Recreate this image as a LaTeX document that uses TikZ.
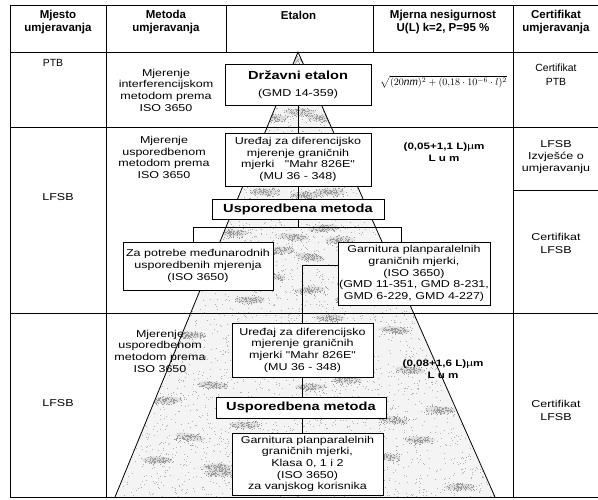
\documentclass[tikz,border=0pt]{standalone}
\usepackage{fontspec}
\setmainfont{Liberation Sans}
\newfontfamily\bodyfont{Liberation Sans}[FakeStretch=1.25]

\tikzset{
  rule/.style={line width=0.9pt},
  link/.style={line width=0.8pt},
  head/.style={font=\bfseries\fontsize{11.5}{13.5}\selectfont, align=center, inner sep=0pt},
  txt/.style={font=\bodyfont\fontsize{10}{11.7}\selectfont, align=center, inner sep=0pt},
  small/.style={font=\fontsize{10.4}{14}\selectfont, align=center, inner sep=0pt},
  val/.style={font=\bodyfont\bfseries\fontsize{9.3}{12}\selectfont, align=center, inner sep=0pt},
  box/.style={draw, fill=white, line width=0.8pt, txt, inner sep=0pt},
  keybox/.style={box, font=\bodyfont\bfseries\fontsize{11.7}{14}\selectfont},
}

\begin{document}
\begin{tikzpicture}[x=1pt,y=-1pt]
\useasboundingbox (0,0) rectangle (598,500);
\clip (0,0) rectangle (598,500);

% calibration pyramid: corners
\coordinate (apex) at (298,52);
\coordinate (baseL) at (115,497);
\coordinate (baseR) at (495,497);

% grainy shading of the pyramid
\begin{scope}
  \clip (apex) -- (baseL) -- (baseR) -- cycle;
  \fill[gray!9] (apex) -- (baseL) -- (baseR) -- cycle;
  \pgfmathsetseed{4242}
  \foreach \i in {1,...,5200}{
    \pgfmathsetmacro{\px}{115+380*rnd}
    \pgfmathsetmacro{\py}{52+445*rnd}
    \fill[gray!60] (\px,\py) rectangle ++(1,1);
  }
  \foreach \sx/\sy/\sa in {233/233/0, 293/237/-5, 323/228/5, 310/257/-10,
      270/277/0, 310/290/5, 250/300/0, 350/300/-5, 190/335/0, 330/318/0,
      213/385/-5, 167/400/0, 190/437/-10, 157/460/0, 217/467/0, 410/370/-5,
      440/410/0, 393/420/-8, 385/457/0, 460/487/0, 310/387/0, 347/380/0,
      220/473/0, 280/250/0, 272/118/0, 322/118/0, 300/112/0, 340/240/0,
      395/330/-5, 420/440/0, 262/340/0, 245/425/0, 288/60/0, 305/195/0,
      265/192/0, 330/192/0}{
    \fill[gray!35, opacity=0.6] (\sx,\sy) ellipse [x radius=15pt, y radius=3.5pt, rotate=\sa];
    \foreach \j in {1,...,90}{
      \pgfmathsetmacro{\dx}{17*(rnd+rnd-1)}
      \pgfmathsetmacro{\dy}{5*(rnd+rnd-1)}
      \fill[gray!80] (\sx+\dx,\sy+\dy) rectangle ++(1,1);
    }
  }
\end{scope}

% table rules
\draw[rule] (10,5) rectangle (605,497);
\draw[rule] (10,52) -- (605,52);
\draw[rule] (10,127) -- (605,127);
\draw[rule] (10,313) -- (605,313);
\draw[rule] (513,190) -- (605,190);
\draw[rule] (106,5) -- (106,497);
\draw[rule] (513,5) -- (513,497);
\draw[rule] (226,5) -- (226,52);
\draw[rule] (373,5) -- (373,52);

% pyramid outline
\draw[link] (baseL) -- (apex) -- (baseR);

% column headings
\node[head] (hPlace) at (58,22) {Mjesto\\umjeravanja};
\node[head] (hMethod) at (166,22) {Metoda\\umjeravanja};
\node[head] (hStd) at (298.5,15) {Etalon};
\node[head] (hUnc) at (443,22) {Mjerna nesigurnost\\U(L) k=2, P=95 \%};
\node[head] (hCert) at (556,22) {Certifikat\\umjeravanja};

% row PTB
\node[small] (ptb) at (53,63) {PTB};
\node[txt] (mInt) at (166,90) {Mjerenje\\interferencijskom\\metodom prema\\ISO 3650};
\node[box, minimum width=146pt, minimum height=41pt] (nat) at (298,84.5) {};
\node[font=\bodyfont\bfseries\fontsize{11.7}{14}\selectfont, inner sep=0pt] (natT) at (298,75.5) {Državni etalon};
\node[txt, inner sep=0pt] (natG) at (298,93.5) {(GMD 14-359)};
\node[inner sep=0pt, font=\fontsize{10.1}{12}\selectfont] (uPTB) at (443.5,82)
  {$\sqrt{(20\mathit{nm})^2+(0{,}18\cdot10^{-6}\cdot l)^2}$};
\node[small] (cPTB) at (556,75) {Certifikat\\PTB};

% row LFSB, national level
\node[txt] (lfsbA) at (58,197) {LFSB};
\node[txt] (mCmpA) at (164,157.5) {Mjerenje\\usporedbenom\\metodom prema\\ISO 3650};
\node[box, minimum width=146pt, minimum height=53pt] (devA) at (298,159.5)
  {Uređaj za diferencijsko\\mjerenje graničnih\\mjerki \ \ "Mahr 826E"\\(MU 36 - 348)};
\node[keybox, minimum width=172pt, minimum height=20pt] (cmpA) at (298,209) {Usporedbena metoda};
\node[box, minimum width=150pt, minimum height=48pt] (intl) at (198,266)
  {Za potrebe međunarodnih\\usporedbenih mjerenja\\(ISO 3650)};
\node[box, minimum width=152pt, minimum height=63pt] (setA) at (414,273.5)
  {Garnitura planparalelnih\\graničnih mjerki,\\(ISO 3650)\\(GMD 11-351, GMD 8-231,\\GMD 6-229, GMD 4-227)};
\node[val] (uA) at (444,152) {(0,05+1,1 L){\mdseries µ}m\\L u m};
\node[txt] (cRep) at (556,157) {LFSB\\Izvješće o\\umjeravanju};
\node[txt, font=\bodyfont\fontsize{10}{13}\selectfont] (cA) at (556,243.5) {Certifikat\\LFSB};

% row LFSB, user level
\node[txt] (lfsbB) at (58,403) {LFSB};
\node[txt] (mCmpB) at (160,351) {Mjerenje\\usporedbenom\\metodom prema\\ISO 3650};
\node[box, minimum width=141pt, minimum height=54pt] (devB) at (302.5,350)
  {Uređaj za diferencijsko\\mjerenje graničnih\\mjerki "Mahr 826E"\\(MU 36 - 348)};
\node[keybox, minimum width=170pt, minimum height=21pt] (cmpB) at (301,407.5) {Usporedbena metoda};
\node[box, minimum width=151pt, minimum height=62pt] (setB) at (307.5,464)
  {Garnitura planparalelnih\\graničnih mjerki,\\Klasa 0, 1 i 2\\(ISO 3650)\\za vanjskog korisnika};
\node[val] (uB) at (443,369) {(0,08+1,6 L){\mdseries µ}m\\L u m};
\node[txt, font=\bodyfont\fontsize{10}{13}\selectfont] (cB) at (556,410) {Certifikat\\LFSB};

% connectors
\coordinate (hub) at (298,227);
\coordinate (forkL) at (193,227);
\coordinate (forkR) at (401,227);
\coordinate (turn) at (302.5,265);
\draw[link] (nat.south) -- (devA.north);
\draw[link] (devA.south) -- (cmpA.north);
\draw[link] (cmpA.south) -- (hub);
\draw[link] (intl.north -| forkL) -- (forkL) -- (forkR) -- (setA.north -| forkR);
\draw[link] (setA.west |- turn) -- (turn) -- (devB.north);
\draw[link] (devB.south) -- (devB.south |- cmpB.north);
\draw[link] (cmpB.south -| devB) -- (setB.north -| devB);
\end{tikzpicture}
\end{document}
